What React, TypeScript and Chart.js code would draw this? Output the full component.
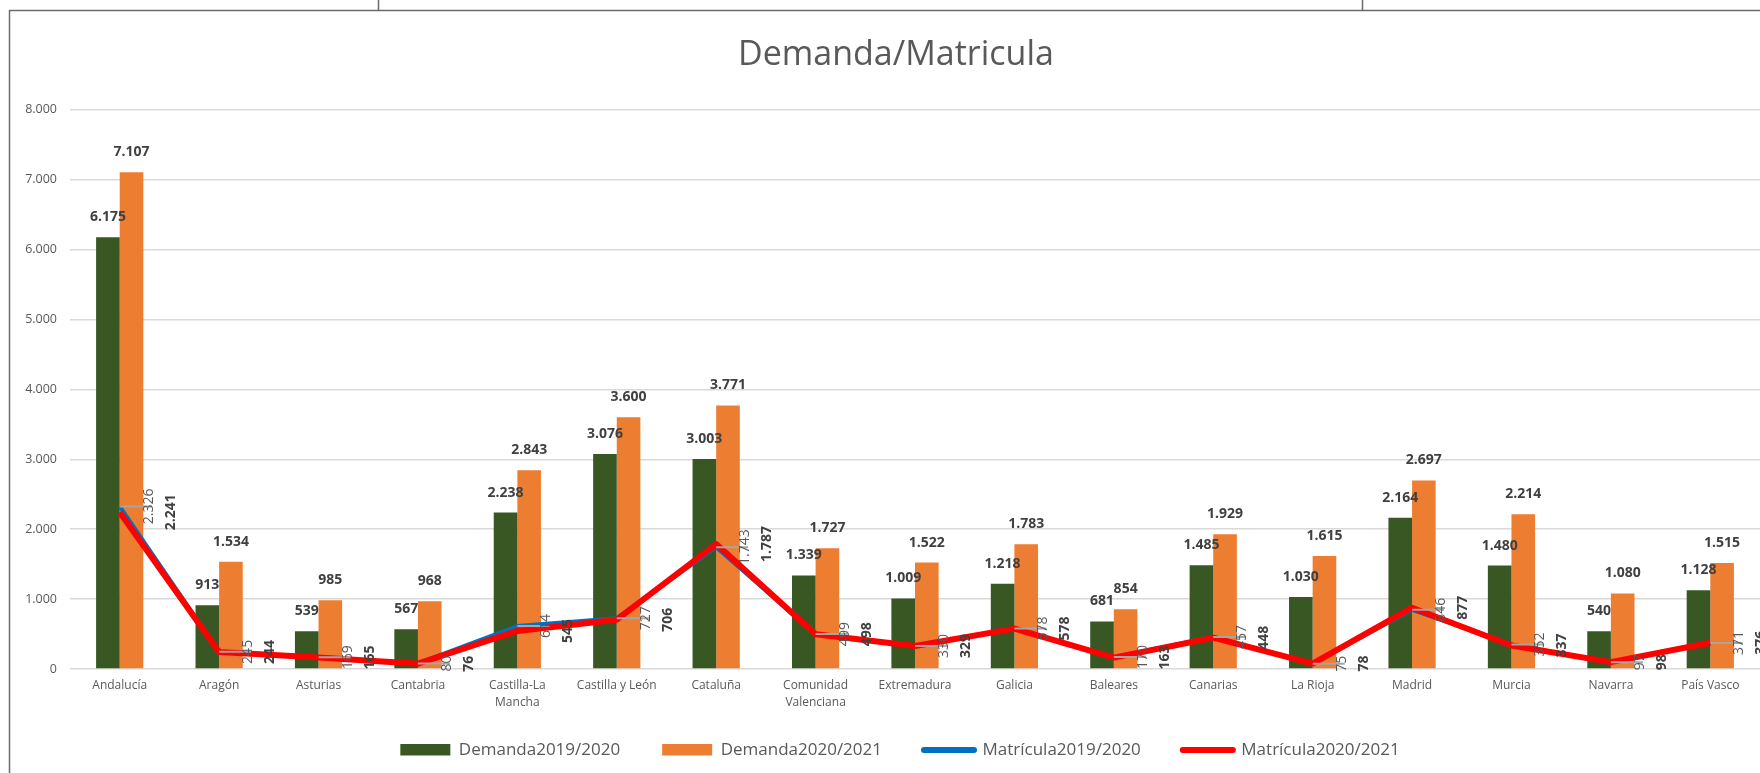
import React, { useEffect, useRef } from "react";
import { Chart, registerables } from "chart.js";

Chart.register(...registerables);

const categories: (string | string[])[] = [
  "Andalucía",
  "Aragón",
  "Asturias",
  "Cantabria",
  ["Castilla-La", "Mancha"],
  "Castilla y León",
  "Cataluña",
  ["Comunidad", "Valenciana"],
  "Extremadura",
  "Galicia",
  "Baleares",
  "Canarias",
  "La Rioja",
  "Madrid",
  "Murcia",
  "Navarra",
  "País Vasco",
];

const demanda1920 = [6175, 913, 539, 567, 2238, 3076, 3003, 1339, 1009, 1218, 681, 1485, 1030, 2164, 1480, 540, 1128];
const demanda2021 = [7107, 1534, 985, 968, 2843, 3600, 3771, 1727, 1522, 1783, 854, 1929, 1615, 2697, 2214, 1080, 1515];
const matricula1920 = [2326, 245, 169, 80, 614, 727, 1743, 499, 330, 578, 170, 457, 75, 846, 352, 97, 371];
const matricula2021 = [2241, 244, 165, 76, 545, 706, 1787, 498, 329, 578, 163, 448, 78, 877, 337, 98, 376];

const seriesNames = ["Demanda2019/2020", "Demanda2020/2021", "Matrícula2019/2020", "Matrícula2020/2021"];
const yMin = 0;
const yMax = 8000;
const yStep = 1000;

const FONT = "'Open Sans', 'Noto Sans', sans-serif";

const fmt = (n: number) => String(Math.round(n)).replace(/\B(?=(\d{3})+(?!\d))/g, ".");

const framePlugin = {
  id: "frame",
  beforeDraw(chart: any) {
    const ctx = chart.ctx;
    ctx.save();
    ctx.fillStyle = "#ffffff";
    ctx.fillRect(0, 0, chart.width, chart.height);
    ctx.strokeStyle = "#6b6b6b";
    ctx.lineWidth = 1.5;
    ctx.beginPath();
    ctx.moveTo(9.5, chart.height);
    ctx.lineTo(9.5, 10.5);
    ctx.lineTo(chart.width, 10.5);
    ctx.moveTo(378.5, 0);
    ctx.lineTo(378.5, 10.5);
    ctx.moveTo(1362.5, 0);
    ctx.lineTo(1362.5, 10.5);
    ctx.stroke();
    ctx.restore();
  },
};

// nudge title and legend boxes after layout (Excel centres them on a wider chart object)
const nudgePlugin = {
  id: "nudge",
  afterLayout(chart: any) {
    const t = chart.titleBlock;
    if (t) {
      t.left += 12;
      t.right += 12;
    }
    const l = chart.legend;
    if (l) {
      l.left += 16;
      l.right += 16;
      l.top -= 17.5;
      l.bottom -= 17.5;
    }
  },
};

const labelPlugin = {
  id: "valueLabels",
  afterDatasetsDraw(chart: any) {
    const ctx = chart.ctx;
    ctx.save();
    const blue = chart.getDatasetMeta(2);
    const red = chart.getDatasetMeta(3);
    // leader lines
    ctx.strokeStyle = "#a6a6a6";
    ctx.lineWidth = 2;
    blue.data.forEach((pt: any) => {
      ctx.beginPath();
      ctx.moveTo(pt.x, pt.y);
      ctx.lineTo(pt.x + 32, pt.y);
      ctx.stroke();
    });
    ctx.textAlign = "center";
    ctx.textBaseline = "middle";
    const drawRot = (text: string, x: number, y: number, font: string, color: string) => {
      ctx.save();
      ctx.translate(x, y);
      ctx.rotate(-Math.PI / 2);
      ctx.font = font;
      ctx.fillStyle = color;
      ctx.fillText(text, 0, 0);
      ctx.restore();
    };
    blue.data.forEach((pt: any, i: number) => {
      drawRot(fmt(matricula1920[i]), pt.x + 29, pt.y, `normal 14px ${FONT}`, "#595959");
    });
    red.data.forEach((pt: any, i: number) => {
      drawRot(fmt(matricula2021[i]), pt.x + 51, pt.y, `bold 14px ${FONT}`, "#404040");
    });
    // bar labels
    ctx.font = `bold 14px ${FONT}`;
    ctx.fillStyle = "#404040";
    [0, 1].forEach((di) => {
      const meta = chart.getDatasetMeta(di);
      const vals = chart.data.datasets[di].data as number[];
      meta.data.forEach((bar: any, i: number) => {
        ctx.fillText(fmt(vals[i]), bar.x, bar.y - 20);
      });
    });
    ctx.restore();
  },
};

export default function App() {
  const ref = useRef<HTMLCanvasElement | null>(null);

  useEffect(() => {
    if (!ref.current) return;
    const chart = new Chart(ref.current, {
      type: "bar",
      data: {
        labels: categories as any,
        datasets: [
          {
            type: "bar",
            label: seriesNames[0],
            data: demanda1920,
            backgroundColor: "#385723",
            borderWidth: 0,
            categoryPercentage: 0.475,
            barPercentage: 1,
            order: 3,
          },
          {
            type: "bar",
            label: seriesNames[1],
            data: demanda2021,
            backgroundColor: "#ED7D31",
            borderWidth: 0,
            categoryPercentage: 0.475,
            barPercentage: 1,
            order: 4,
          },
          {
            type: "line",
            label: seriesNames[2],
            data: matricula1920,
            borderColor: "#0070C0",
            backgroundColor: "#0070C0",
            borderWidth: 4,
            pointRadius: 0,
            tension: 0,
            borderJoinStyle: "round",
            order: 2,
          },
          {
            type: "line",
            label: seriesNames[3],
            data: matricula2021,
            borderColor: "#FF0000",
            backgroundColor: "#FF0000",
            borderWidth: 6,
            pointRadius: 0,
            tension: 0,
            borderJoinStyle: "round",
            order: 1,
          },
        ] as any,
      },
      options: {
        responsive: false,
        animation: false,
        devicePixelRatio: 1,
        layout: { padding: { left: 8, right: 0, top: 0, bottom: 0 } },
        plugins: {
          tooltip: { enabled: false },
          title: {
            display: true,
            text: "Demanda/Matricula",
            color: "#595959",
            font: { family: FONT, size: 34, weight: "normal" },
            padding: { top: 35, bottom: 34 },
          },
          legend: {
            display: true,
            position: "bottom",
            maxHeight: 56,
            labels: {
              usePointStyle: true,
              pointStyleWidth: 50,
              boxHeight: 12,
              padding: 42,
              color: "#595959",
              font: { family: FONT, size: 17 },
              generateLabels: (c: any) =>
                c.data.datasets.map((ds: any, i: number) => {
                  const isLine = ds.type === "line";
                  const col = isLine ? ds.borderColor : ds.backgroundColor;
                  return {
                    text: ds.label,
                    fillStyle: col,
                    strokeStyle: col,
                    lineWidth: isLine ? 6 : 0,
                    lineCap: "round",
                    pointStyle: isLine ? "line" : "rect",
                    hidden: !c.isDatasetVisible(i),
                    datasetIndex: i,
                    fontColor: "#595959",
                  };
                }),
            },
          },
        },
        scales: {
          x: {
            grid: { display: false, drawTicks: false },
            border: { display: false },
            ticks: {
              color: "#595959",
              font: { family: FONT, size: 12, lineHeight: 1.42 },
              padding: 8.5,
              maxRotation: 0,
              autoSkip: false,
            },
            afterFit: (s: any) => {
              s.height = 48;
            },
          },
          y: {
            min: yMin,
            max: yMax,
            grid: { color: "#d9d9d9", lineWidth: 1.5, drawTicks: false },
            border: { display: false },
            ticks: {
              stepSize: yStep,
              color: "#595959",
              font: { family: FONT, size: 12.5 },
              padding: 13,
              callback: (v: any) => fmt(Number(v)),
            },
            afterFit: (s: any) => {
              s.width = 62;
            },
          },
        },
      } as any,
      plugins: [framePlugin, nudgePlugin, labelPlugin],
    });
    return () => chart.destroy();
  }, []);

  return (
    <div style={{ position: "fixed", left: 0, top: 0, width: 1760, height: 773, background: "#fff" }}>
      <canvas ref={ref} width={1760} height={773} style={{ display: "block" }} />
    </div>
  );
}
